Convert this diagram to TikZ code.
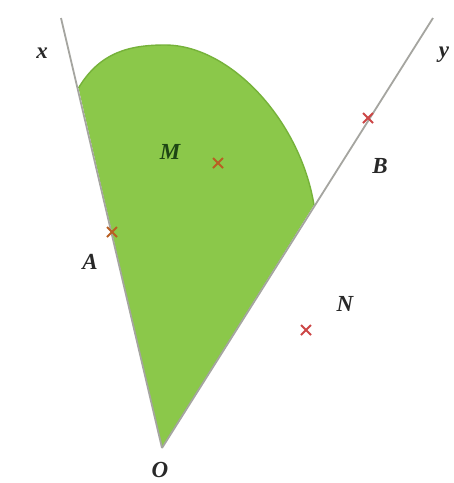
\documentclass[tikz,border=0pt]{standalone}
\usepackage{fontspec}
\setmainfont{Liberation Serif}
\usetikzlibrary{shapes.misc}
\definecolor{fillgreen}{RGB}{139,200,74}
\definecolor{edgegreen}{RGB}{118,178,58}
\definecolor{raygray}{RGB}{165,165,160}
\definecolor{markbrown}{RGB}{185,95,35}
\definecolor{markred}{RGB}{205,70,70}
\definecolor{lblcol}{RGB}{40,40,40}
\definecolor{lblgreen}{RGB}{30,70,20}
\tikzset{
  ray/.style={draw=raygray, line width=1.8pt},
  pt/.style={cross out, draw, line width=2pt, minimum size=8pt, inner sep=0pt},
  lbl/.style={font=\fontsize{23}{25}\selectfont\bfseries\itshape, text=lblcol, inner sep=0pt},
}
\begin{document}
\begin{tikzpicture}[x=1pt,y=-1pt]
\useasboundingbox (0,0) rectangle (454,483);
\fill[white] (0,0) rectangle (454,483);
\coordinate (O) at (162,448);
\coordinate (X) at (61,18);
\coordinate (Y) at (433,18);
\coordinate (P) at (78.5,88);
\coordinate (T) at (165,45);
\coordinate (Q) at (314,205);
% green region
\fill[fillgreen] (O) -- (P) .. controls (100,52) and (130,45) .. (T)
   .. controls (230,45) and (300,120) .. (Q) -- cycle;
\draw[edgegreen, line width=1.4pt] (P) .. controls (100,52) and (130,45) .. (T)
   .. controls (230,45) and (300,120) .. (Q);
% rays
\draw[ray] (O) -- (X);
\draw[ray] (O) -- (Y);
% points
\node[pt, draw=markbrown] (A) at (112,232) {};
\node[pt, draw=markbrown] (M) at (218,163) {};
\node[pt, draw=markred] (B) at (368,118) {};
\node[pt, draw=markred] (N) at (306,330) {};
% labels
\node[lbl] (lx) at (42,53) {x};
\node[lbl] (ly) at (444,55) {y};
\node[lbl, text=lblgreen] (lM) at (170,152) {M};
\node[lbl] (lA) at (90,262) {A};
\node[lbl] (lB) at (380,166) {B};
\node[lbl] (lN) at (345,304) {N};
\node[lbl] (lO) at (160,470) {O};
\end{tikzpicture}
\end{document}
